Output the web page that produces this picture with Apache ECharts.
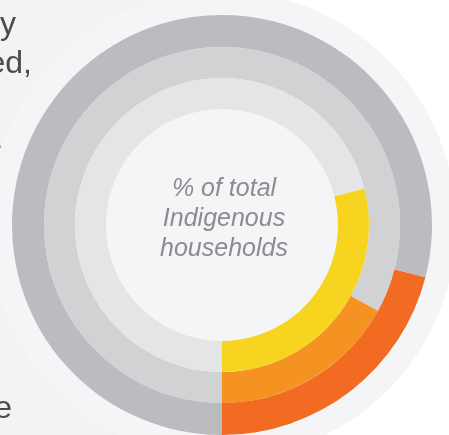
<!DOCTYPE html>
<html>
<head>
<meta charset="utf-8">
<script src="https://cdn.jsdelivr.net/npm/echarts@6/dist/echarts.min.js"></script>
<style>
  html, body { margin: 0; padding: 0; background: #ffffff; }
  #myChart { width: 449px; height: 435px; }
</style>
</head>
<body>
<div id="myChart"></div>
<script>
// share of households, one ring per measure (outer -> inner)
var rings = ['outer', 'middle', 'inner'];
var values = [21, 17, 29];
var colors = ['#f26b22', '#f49222', '#f6d41f'];
var greys = ['#bbbcbf', '#d1d2d4', '#e4e5e7'];
var radii = [[178, 210], [147, 178], [116, 147]];
var centerLines = ['% of total', 'Indigenous', 'households'];

var myChart = echarts.init(document.getElementById('myChart'));

var series = rings.map(function (name, i) {
  return {
    name: name,
    type: 'pie',
    center: [222, 225],
    radius: radii[i],
    startAngle: -90,
    clockwise: false,
    silent: true,
    animation: false,
    label: { show: false },
    labelLine: { show: false },
    itemStyle: { borderWidth: 0 },
    data: [
      { value: values[i], itemStyle: { color: colors[i] } },
      { value: 100 - values[i], itemStyle: { color: greys[i] } }
    ]
  };
});

var option = {
  backgroundColor: '#ffffff',
  graphic: [
    { type: 'rect', z: -10, shape: { x: 0, y: 0, width: 237, height: 435 }, style: { fill: '#f2f3f5' } },
    { type: 'circle', z: -9, shape: { cx: 222, cy: 225, r: 234 }, style: { fill: '#f4f5f7' } },
    // clipped paragraph on the left
    { type: 'text', z: 10, style: { x: 16, y: 41, text: 'y', fill: '#4b4c4e', font: '32px "Liberation Sans", Arial, sans-serif', textAlign: 'right', textVerticalAlign: 'bottom' } },
    { type: 'text', z: 10, style: { x: 32, y: 80, text: 'ed,', fill: '#4b4c4e', font: '32px "Liberation Sans", Arial, sans-serif', textAlign: 'right', textVerticalAlign: 'bottom' } },
    { type: 'text', z: 10, style: { x: 2, y: 162, text: '-', fill: '#4b4c4e', font: '32px "Liberation Sans", Arial, sans-serif', textAlign: 'right', textVerticalAlign: 'bottom' } },
    { type: 'text', z: 10, style: { x: 12, y: 425, text: 'e', fill: '#4b4c4e', font: '32px "Liberation Sans", Arial, sans-serif', textAlign: 'right', textVerticalAlign: 'bottom' } },
    {
      type: 'text', z: 10,
      style: {
        x: 224, y: 219,
        text: centerLines.join('\n'),
        fill: '#8b8c8f',
        font: 'italic 25px "Liberation Sans", Arial, sans-serif',
        lineHeight: 30,
        textAlign: 'center',
        textVerticalAlign: 'middle'
      }
    }
  ],
  series: series
};

myChart.setOption(option);
</script>
</body>
</html>
